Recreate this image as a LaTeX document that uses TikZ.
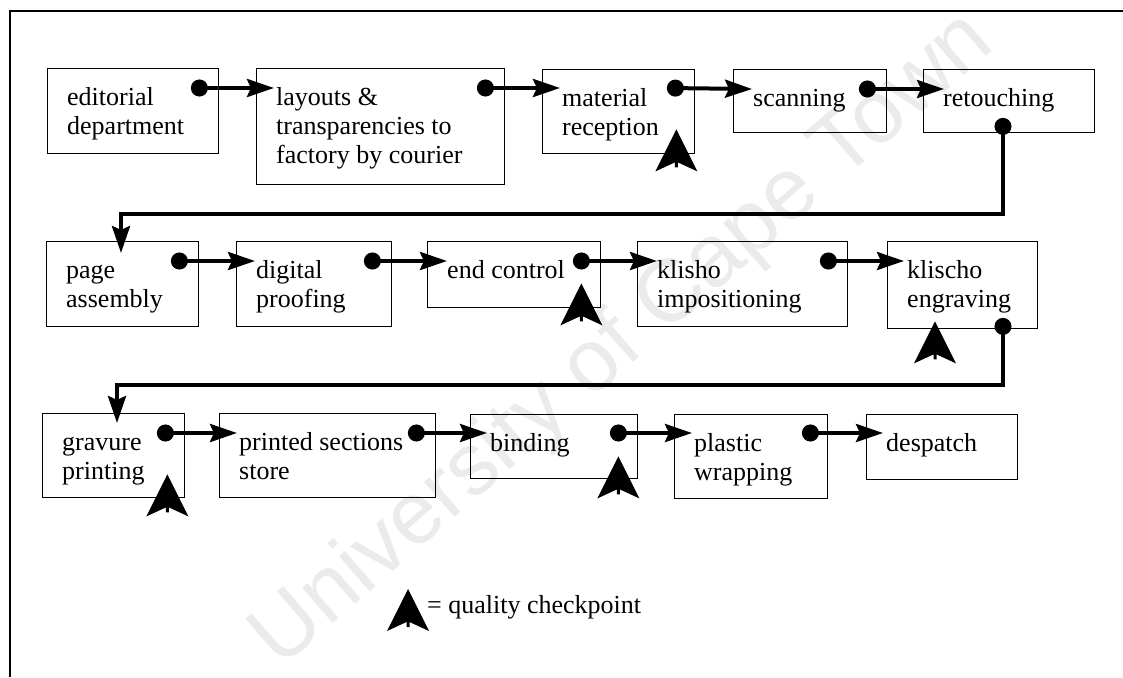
\documentclass[tikz,border=0pt]{standalone}
\usepackage{fontspec}
\setmainfont{Liberation Serif}
\newfontfamily\wmfont{Liberation Sans}
\usetikzlibrary{arrows.meta}

% one process stage: name, left, top, right, bottom, label lines
\newcommand\stagebox[6]{%
  \node[stage, minimum width=#4-#2, minimum height=#5-#3] (#1) at (#2,-#3) {};
  \node[lbl] (#1-t) at ([shift={(20,-37)}]#1.north west) {\parbox[t]{300pt}{\raggedright #6}};}

\begin{document}
\begin{tikzpicture}[x=1pt,y=1pt,
  stage/.style={draw, line width=1.4pt, inner sep=0pt, anchor=north west},
  lbl/.style={anchor=base west, inner sep=0pt, font=\fontsize{26}{29}\selectfont},
  flow/.style={line width=4pt, line join=miter,
    {Circle[length=17pt]}-{Stealth[length=27pt,width=18pt,inset=4pt]}},
  qc/.pic={\fill (0,0) -- (21,-42) -- (1.5,-33) -- (1.5,-38) -- (-1.5,-38)
      -- (-1.5,-33) -- (-21,-42) -- cycle;}
]
\useasboundingbox (0,0) rectangle (1123,-677);
\fill[white] (0,0) rectangle (1123,-677);

% watermark
\node[rotate=41, text=black!8, inner sep=0pt,
  font=\wmfont\fontsize{88}{88}\selectfont] (wm) at (624,-341) {University of Cape Town};

% frame
\draw[line width=1.6pt] (10,-677) -- (10,-11) -- (1123,-11);

% first row
\stagebox{ed}{47}{68}{218}{153}{editorial\\department}
\stagebox{lay}{256}{68}{504}{184}{layouts \&\\transparencies to\\factory by courier}
\stagebox{mat}{542}{69}{694}{153}{material\\reception}
\stagebox{scan}{733}{69}{886}{132}{scanning}
\stagebox{ret}{923}{69}{1094}{132}{retouching}

% second row
\stagebox{page}{46}{241}{198}{326}{page\\assembly}
\stagebox{dig}{236}{241}{391}{326}{digital\\proofing}
\stagebox{endc}{427}{241}{600}{307}{end control}
\stagebox{imp}{637}{241}{847}{326}{klisho\\impositioning}
\stagebox{eng}{887}{241}{1037}{328}{klischo\\engraving}

% third row
\stagebox{grav}{42}{413}{184}{497}{gravure\\printing}
\stagebox{store}{219}{413}{435}{497}{printed sections\\store}
\stagebox{bind}{470}{414}{637}{478}{binding}
\stagebox{wrap}{674}{414}{827}{498}{plastic\\wrapping}
\stagebox{desp}{866}{414}{1017}{479}{despatch}

% connectors along the rows
\draw[flow] ([shift={(-28.5,-20)}]ed.north east) -- ([shift={(18,-20)}]lay.north west);
\draw[flow] ([shift={(-28.5,-20)}]lay.north east) -- ([shift={(18,-19)}]mat.north west);
\draw[flow] ([shift={(-28.5,-19)}]mat.north east) -- ([shift={(19,-20)}]scan.north west);
\draw[flow] ([shift={(-28.5,-20)}]scan.north east) -- ([shift={(21,-20)}]ret.north west);

\draw[flow] ([shift={(-28.5,-20)}]page.north east) -- ([shift={(19,-20)}]dig.north west);
\draw[flow] ([shift={(-28.5,-20)}]dig.north east) -- ([shift={(20,-20)}]endc.north west);
\draw[flow] ([shift={(-28.5,-20)}]endc.north east) -- ([shift={(20,-20)}]imp.north west);
\draw[flow] ([shift={(-28.5,-20)}]imp.north east) -- ([shift={(17,-20)}]eng.north west);

\draw[flow] ([shift={(-28.5,-20)}]grav.north east) -- ([shift={(18,-20)}]store.north west);
\draw[flow] ([shift={(-28.5,-20)}]store.north east) -- ([shift={(17,-19)}]bind.north west);
\draw[flow] ([shift={(-28.5,-19)}]bind.north east) -- ([shift={(18,-19)}]wrap.north west);
\draw[flow] ([shift={(-26.5,-19)}]wrap.north east) -- ([shift={(17,-19)}]desp.north west);

% returns to the next row
\draw[flow] ([shift={(80,15.5)}]ret.south west) -- ++(0,-96.5) -| ([shift={(75,-12)}]page.north west);
\draw[flow] ([shift={(116,11.5)}]eng.south west) -- ++(0,-67.5) -| ([shift={(75,-10)}]grav.north west);

% quality checkpoints
\pic at ([shift={(-19,25)}]mat.south east) {qc};
\pic at ([shift={(-20,25)}]endc.south east) {qc};
\pic at ([shift={(48,8)}]eng.south west) {qc};
\pic at ([shift={(-18,24)}]grav.south east) {qc};
\pic at ([shift={(-20,23)}]bind.south east) {qc};

% legend
\pic at (408,-589) {qc};
\node[lbl] (legend) at (427,-613) {= quality checkpoint};
\end{tikzpicture}
\end{document}
